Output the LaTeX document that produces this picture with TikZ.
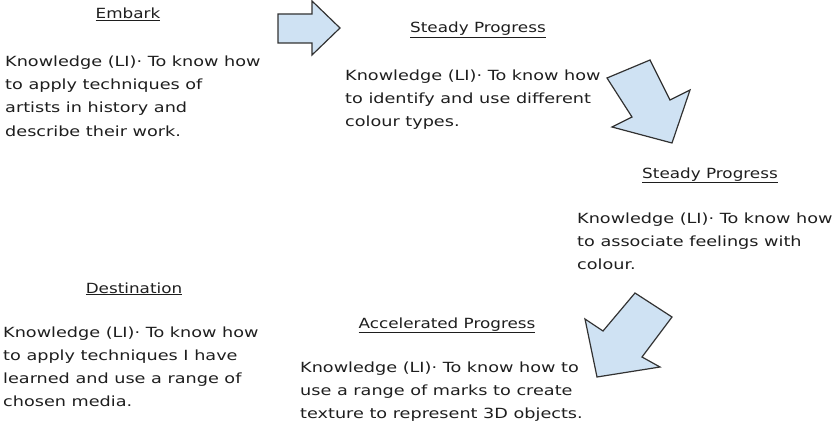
\documentclass[tikz,border=0pt]{standalone}
\usepackage{fontspec}
\setmainfont[FakeStretch=1.2]{DejaVu Sans}
\newfontfamily\bodyfont[FakeStretch=1.26]{DejaVu Sans}
\definecolor{arrowfill}{RGB}{207,226,243}
\definecolor{arrowline}{RGB}{50,50,50}
\definecolor{txt}{RGB}{30,30,30}
\begin{document}
\begin{tikzpicture}[x=1pt,y=-1pt,
  title/.style={anchor=base,inner sep=0pt,text=txt,font=\fontsize{14}{23}\selectfont},
  body/.style={anchor=base west,inner sep=0pt,align=left,text=txt,font=\bodyfont\fontsize{14}{23}\selectfont},
  blockarrow/.style={fill=arrowfill,draw=arrowline,line width=1.2pt,line join=miter}]
\useasboundingbox (0,0) rectangle (837,433);
% titles
\node[title] (t1) at (128,19) {\underline{Embark}};
\node[title] (t2) at (478,33) {\underline{Steady Progress}};
\node[title] (t3) at (710,178) {\underline{Steady Progress}};
\node[title] (t4) at (134,293) {\underline{Destination}};
\node[title] (t5) at (447,328) {\underline{Accelerated Progress}};
% bodies
\node[body] (b1) at (5,67) {Knowledge (LI)· To know how};
\node[body] (b1b) at (5,90) {to apply techniques of};
\node[body] (b1c) at (5,113) {artists in history and};
\node[body] (b1d) at (5,136) {describe their work.};
\node[body] (b2) at (345,81) {Knowledge (LI)· To know how};
\node[body] (b2b) at (345,104) {to identify and use different};
\node[body] (b2c) at (345,127) {colour types.};
\node[body] (b3) at (577,223) {Knowledge (LI)· To know how};
\node[body] (b3b) at (577,246) {to associate feelings with};
\node[body] (b3c) at (577,269) {colour.};
\node[body] (b4) at (3,337) {Knowledge (LI)· To know how};
\node[body] (b4b) at (3,360) {to apply techniques I have};
\node[body] (b4c) at (3,383) {learned and use a range of};
\node[body] (b4d) at (3,406) {chosen media.};
\node[body] (b5) at (300,372) {Knowledge (LI)· To know how to};
\node[body] (b5b) at (300,395) {use a range of marks to create};
\node[body] (b5c) at (300,418) {texture to represent 3D objects.};
% block arrows
\draw[blockarrow] (278,14) -- (312,14) -- (312,1) -- (340,28) -- (312,55) -- (312,43) -- (278,43) -- cycle;
\draw[blockarrow] (607,78) -- (650,60) -- (670,100) -- (690,90) -- (672,143) -- (612,127) -- (632,117) -- cycle;
\draw[blockarrow] (635,293) -- (672,317) -- (642,357) -- (660,367) -- (597,377) -- (585,319) -- (603,331) -- cycle;
\end{tikzpicture}
\end{document}
